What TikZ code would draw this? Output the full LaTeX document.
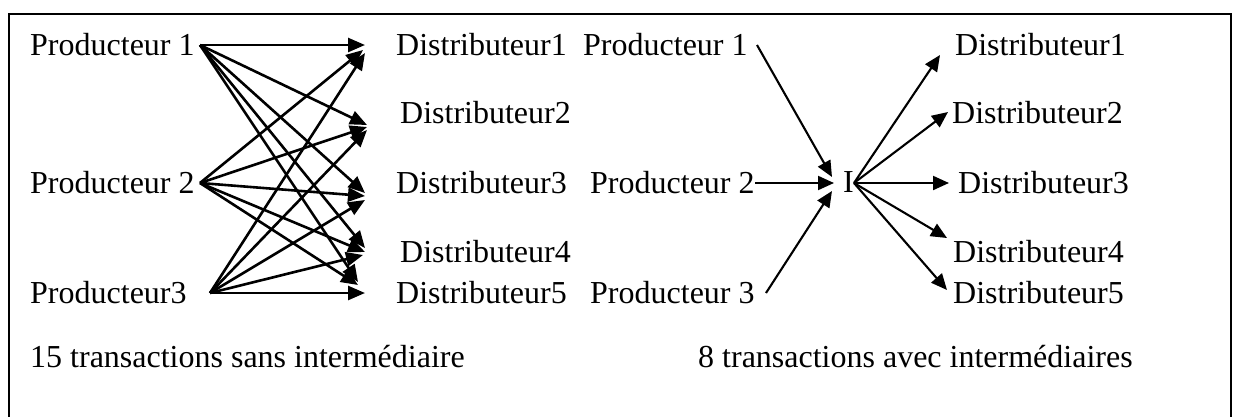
\documentclass[tikz,border=0pt]{standalone}
\usepackage{fontspec}
\setmainfont{Liberation Serif}
\usetikzlibrary{arrows.meta}
\begin{document}
\begin{tikzpicture}[x=1pt,y=-1pt,
  lbl/.style={anchor=base west,inner sep=0pt,font=\fontsize{32}{36}\selectfont},
  arrL/.style={line width=2.6pt,-{Triangle[length=17pt,width=14pt]}},
  arrR/.style={line width=2.1pt,-{Triangle[length=16pt,width=14pt]}}]
\useasboundingbox (0,0) rectangle (1235,416);
\draw[line width=2pt] (8.5,440) -- (8.5,14) -- (1231,14) -- (1231,440);
% left labels
\node[lbl] (lp1) at (30,55) {Producteur 1};
\node[lbl] (lp2) at (30,193) {Producteur 2};
\node[lbl] (lp3) at (30,303) {Producteur3};
\node[lbl] (ld1) at (396,55) {Distributeur1};
\node[lbl] (ld2) at (400,123) {Distributeur2};
\node[lbl] (ld3) at (396,193) {Distributeur3};
\node[lbl] (ld4) at (400,262) {Distributeur4};
\node[lbl] (ld5) at (396,303) {Distributeur5};
% left coordinates
\coordinate (s1) at (200,45);
\coordinate (s2) at (200,183);
\coordinate (s3) at (210,293);
\coordinate (a11) at (365,45);  \coordinate (a12) at (367,125);
\coordinate (a13) at (365,193); \coordinate (a14) at (365,248);
\coordinate (a15) at (358,282);
\coordinate (a21) at (363,50);  \coordinate (a22) at (367,127);
\coordinate (a23) at (365,196); \coordinate (a24) at (365,252);
\coordinate (a25) at (358,285);
\coordinate (a31) at (365,53);  \coordinate (a32) at (367,130);
\coordinate (a33) at (365,200); \coordinate (a34) at (363,255);
\coordinate (a35) at (365,293);
\foreach \i in {1,2,3}{\foreach \j in {1,...,5}{\draw[arrL] (s\i) -- (a\i\j);}}
% right labels
\node[lbl] (rp1) at (583,55) {Producteur 1};
\node[lbl] (rp2) at (590,193) {Producteur 2};
\node[lbl] (rp3) at (590,303) {Producteur 3};
\node[lbl] (ri) at (843,192) {I};
\node[lbl] (rd1) at (955,55) {Distributeur1};
\node[lbl] (rd2) at (952,123) {Distributeur2};
\node[lbl] (rd3) at (958,193) {Distributeur3};
\node[lbl] (rd4) at (953,262) {Distributeur4};
\node[lbl] (rd5) at (953,303) {Distributeur5};
% right coordinates
\coordinate (q1) at (757,45);
\coordinate (q2) at (755,183);
\coordinate (q3) at (766,293);
\coordinate (i1) at (832,177);
\coordinate (i2) at (834,183);
\coordinate (i3) at (832,191);
\coordinate (o) at (854,183);
\coordinate (b1) at (940,55);
\coordinate (b2) at (948,112);
\coordinate (b3) at (949,183);
\coordinate (b4) at (947,238);
\coordinate (b5) at (947,290);
\draw[arrR] (q1) -- (i1);
\draw[arrR] (q2) -- (i2);
\draw[arrR] (q3) -- (i3);
\foreach \k in {1,...,5}{\draw[arrR] (o) -- (b\k);}
% bottom texts
\node[lbl] (t1) at (30,367) {15 transactions sans intermédiaire};
\node[lbl] (t2) at (698,367) {8 transactions avec intermédiaires};
\end{tikzpicture}
\end{document}
